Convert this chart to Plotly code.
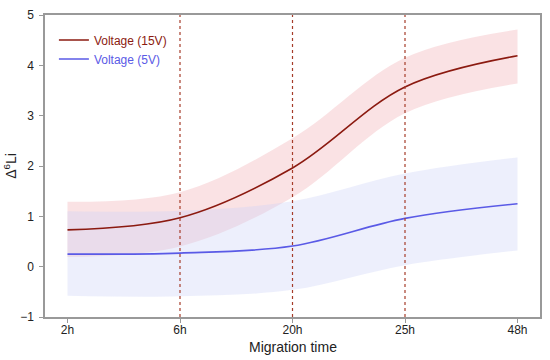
import plotly.graph_objects as go

categories = ["2h", "6h", "20h", "25h", "48h"]
v15_mean = [0.73, 0.97, 1.96, 3.57, 4.19]
v15_upper = [1.29, 1.48, 2.55, 4.15, 4.71]
v15_lower = [0.19, 0.40, 1.38, 3.05, 3.64]
v5_mean = [0.25, 0.27, 0.41, 0.96, 1.25]
v5_upper = [1.10, 1.11, 1.30, 1.85, 2.17]
v5_lower = [-0.58, -0.59, -0.46, 0.03, 0.32]
vlines = ["6h", "20h", "25h"]

xi = list(range(len(categories)))
red_line = "#8b1a10"
blue_line = "#5a5ae6"
red_fill = "rgba(240,165,170,0.32)"
blue_fill = "rgba(205,210,248,0.36)"

fig = go.Figure()

fig.add_trace(go.Scatter(x=xi, y=v15_lower, mode="lines", line=dict(width=0, shape="spline"),
                         showlegend=False, hoverinfo="skip"))
fig.add_trace(go.Scatter(x=xi, y=v15_upper, mode="lines", line=dict(width=0, shape="spline"),
                         fill="tonexty", fillcolor=red_fill, showlegend=False, hoverinfo="skip"))
fig.add_trace(go.Scatter(x=xi, y=v5_lower, mode="lines", line=dict(width=0, shape="spline"),
                         showlegend=False, hoverinfo="skip"))
fig.add_trace(go.Scatter(x=xi, y=v5_upper, mode="lines", line=dict(width=0, shape="spline"),
                         fill="tonexty", fillcolor=blue_fill, showlegend=False, hoverinfo="skip"))

fig.add_trace(go.Scatter(x=xi, y=v15_mean, mode="lines",
                         line=dict(color=red_line, width=1.6, shape="spline"),
                         name=f"<span style='color:{red_line}'>Voltage (15V)</span>"))
fig.add_trace(go.Scatter(x=xi, y=v5_mean, mode="lines",
                         line=dict(color=blue_line, width=1.6, shape="spline"),
                         name=f"<span style='color:{blue_line}'>Voltage (5V)</span>"))

for c in vlines:
    fig.add_shape(type="line", xref="x", yref="paper", x0=categories.index(c), x1=categories.index(c),
                  y0=0, y1=1, line=dict(color="#a63c2a", width=1.2, dash="dot"))

fig.add_annotation(text="Migration time", xref="paper", yref="paper", x=0.5, y=0,
                   yshift=-30, yanchor="middle", showarrow=False, font=dict(size=14, color="#222"))

fig.update_layout(
    width=550, height=360,
    margin=dict(l=45, r=8, t=13, b=43),
    paper_bgcolor="white", plot_bgcolor="white",
    font=dict(family="Liberation Sans, Arial, sans-serif", size=12, color="#222"),
    showlegend=True,
    legend=dict(x=0.018, y=0.965, xanchor="left", yanchor="top", bgcolor="rgba(0,0,0,0)",
                font=dict(size=12), itemwidth=30, tracegroupgap=0, traceorder="normal"),
    xaxis=dict(range=[-0.2, 4.2], tickvals=xi, ticktext=categories,
               showgrid=False, zeroline=False, showline=True, linecolor="#999", linewidth=1.5,
               mirror=True, ticks="outside", ticklen=4, tickcolor="#999",
               ticklabelstandoff=-3),
    yaxis=dict(range=[-1, 5], tickvals=[-1, 0, 1, 2, 3, 4, 5],
               showgrid=False, zeroline=False, showline=True, linecolor="#999", linewidth=1.5,
               mirror=True, ticks="outside", ticklen=4, tickcolor="#999",
               ticklabelstandoff=3,
               title=dict(text="Δ<sup>6</sup>Li", font=dict(size=14), standoff=0)),
)

fig.write_html("out.html", config={"displayModeBar": False},
               post_script="document.body.style.margin='0';document.body.style.overflow='hidden';")
